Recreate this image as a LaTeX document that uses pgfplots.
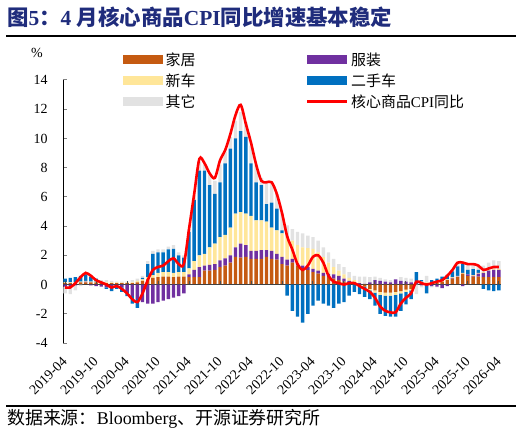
\documentclass[border=0pt]{standalone}
\usepackage{fontspec}
\setmainfont{Liberation Serif}
\newfontfamily\cjk{Noto Sans CJK SC}
\usepackage{pgfplots}
\usepackage{pgfplotstable}
\pgfplotsset{compat=1.18}

\definecolor{cHJ}{HTML}{C55A11}
\definecolor{cFZ}{HTML}{7030A0}
\definecolor{cXC}{HTML}{FFE699}
\definecolor{cESC}{HTML}{0070C0}
\definecolor{cQT}{HTML}{E2E2E2}
\definecolor{titleblue}{HTML}{1F2C7C}

% contributions to core goods CPI y/y (pp), month index 0 = 2019-04
\pgfplotstableread{
m hj fz xc esc qt cpi
0 0.10 -0.15 0.05 0.25 -0.45 -0.2
1 0.10 -0.10 0.05 0.30 -0.55 -0.2
2 0.10 -0.05 0.05 0.35 -0.35 0.1
3 0.15 0.00 0.05 0.40 -0.10 0.5
4 0.15 0.05 0.05 0.45 0.10 0.8
5 0.15 -0.05 0.05 0.35 0.10 0.6
6 0.15 -0.10 0.05 0.20 0.00 0.3
7 0.12 -0.15 0.05 0.00 0.13 0.15
8 0.10 -0.20 0.05 -0.10 0.15 0.0
9 0.10 -0.15 0.05 -0.30 0.10 -0.2
10 0.10 -0.10 0.05 -0.20 0.05 -0.1
11 0.10 -0.20 0.03 -0.30 0.07 -0.3
12 0.10 -0.50 0.05 -0.30 0.05 -0.6
13 0.10 -0.80 0.05 -0.50 0.15 -1.0
14 0.15 -1.00 0.10 -0.60 0.15 -1.2
15 0.25 -1.20 0.10 0.10 0.15 -0.6
16 0.35 -1.30 0.15 0.90 0.20 0.3
17 0.45 -1.30 0.20 1.45 0.20 1.0
18 0.50 -1.20 0.30 1.40 0.20 1.2
19 0.55 -1.10 0.30 1.35 0.20 1.3
20 0.55 -1.00 0.30 1.55 0.20 1.6
21 0.50 -0.90 0.30 1.65 0.25 1.8
22 0.55 -0.80 0.30 1.15 0.20 1.4
23 0.55 -0.60 0.30 1.00 0.15 1.4
24 0.50 0.20 0.40 2.50 0.20 3.8
25 0.50 0.50 0.60 4.20 0.30 6.2
26 0.50 0.70 0.80 5.80 0.60 8.6
27 0.95 0.35 0.80 5.70 0.40 8.3
28 0.95 0.40 1.20 4.25 0.70 7.6
29 1.00 0.40 1.40 3.40 0.90 7.3
30 1.20 0.45 1.60 3.75 1.20 8.5
31 1.30 0.50 1.60 4.90 0.80 9.2
32 1.50 0.50 1.90 5.40 0.80 10.3
33 1.90 0.65 2.30 5.15 1.20 11.6
34 1.85 0.95 2.15 5.55 1.30 12.3
35 1.90 0.80 2.15 5.25 1.00 11.0
36 1.75 0.55 2.40 3.60 1.20 9.7
37 1.75 0.55 2.10 2.60 1.20 8.2
38 1.75 0.60 2.05 2.40 0.50 7.1
39 1.90 0.45 1.95 1.20 1.40 7.0
40 1.75 0.55 1.60 1.70 1.30 7.0
41 1.70 0.40 1.60 1.50 1.00 6.2
42 1.40 0.50 1.60 0.20 1.20 4.9
43 1.30 0.40 1.55 -0.75 0.80 3.3
44 1.50 0.25 1.25 -1.80 0.80 2.4
45 1.30 0.15 1.25 -2.20 0.90 1.4
46 1.07 0.23 1.25 -2.60 0.95 1.0
47 1.00 0.20 1.30 -2.00 0.85 1.3
48 0.85 0.22 1.38 -1.45 0.80 1.9
49 0.75 0.20 1.25 -1.10 0.80 2.0
50 0.60 0.20 1.07 -1.30 0.68 1.5
51 0.50 0.23 0.77 -1.45 0.70 0.6
52 0.40 0.30 0.50 -1.60 0.55 0.2
53 0.30 0.30 0.35 -1.30 0.45 0.1
54 0.20 0.20 0.30 -1.20 0.50 0.0
55 0.10 0.15 0.20 -0.75 0.40 0.1
56 0.05 0.10 0.15 -0.50 0.30 0.1
57 -0.05 0.10 0.05 -0.60 0.40 -0.1
58 -0.15 0.05 0.00 -0.70 0.50 -0.3
59 -0.30 0.15 -0.10 -0.60 0.35 -0.5
60 -0.40 0.30 -0.15 -0.90 0.25 -0.9
61 -0.50 0.25 -0.20 -1.30 0.20 -1.5
62 -0.55 0.20 -0.20 -1.40 0.15 -1.8
63 -0.55 0.15 -0.20 -1.45 0.15 -1.9
64 -0.50 0.35 -0.20 -1.50 0.00 -1.9
65 -0.45 0.25 -0.15 -1.20 0.25 -1.3
66 -0.35 0.20 -0.15 -0.85 0.25 -0.9
67 -0.30 0.15 -0.10 -0.60 0.25 -0.6
68 0.05 0.05 0.05 0.70 -0.65 0.2
69 0.15 -0.05 0.05 0.10 -0.15 0.1
70 0.10 -0.10 0.05 -0.50 0.45 0.0
71 0.05 -0.10 0.05 0.20 -0.10 0.1
72 0.10 -0.15 0.05 0.25 -0.05 0.2
73 0.20 -0.25 0.05 0.30 0.00 0.3
74 0.30 -0.10 0.05 0.30 0.05 0.6
75 0.40 0.05 0.05 0.40 0.10 1.0
76 0.50 0.05 0.05 0.65 0.25 1.5
77 0.75 -0.10 0.05 0.60 0.20 1.5
78 0.60 0.10 0.00 0.30 0.40 1.4
79 0.55 0.05 0.05 0.40 0.35 1.4
80 0.55 0.20 0.05 0.20 0.30 1.3
81 0.50 0.30 0.05 -0.30 0.45 1.0
82 0.50 0.45 0.05 -0.40 0.50 1.1
83 0.50 0.50 0.05 -0.45 0.60 1.2
84 0.50 0.50 0.05 -0.40 0.55 1.2
}\core

\pgfplotsset{
  base/.style={
    width=438bp, height=263bp, scale only axis,
    xmin=-0.4, xmax=84.4, ymin=-4, ymax=14,
    at={(63bp,91bp)}, anchor=south west,
  },
  sbar/.style={fill=#1, draw=none},
  barleg/.style={legend image code/.code={\fill[##1] (0bp,-4.5bp) rectangle (40bp,4.5bp);}},
  lineleg/.style={legend image code/.code={\draw[##1] (0bp,0bp) -- (40bp,0bp);}},
}

\begin{document}
\begin{tikzpicture}
\path[use as bounding box] (0,0) rectangle (522bp,434bp);

\node[anchor=west, text=titleblue, font=\fontsize{21.5}{25}\selectfont\bfseries, inner sep=0pt]
  at (7bp,417bp) {{\cjk 图}5{\cjk ：}4 {\cjk 月核心商品}CPI{\cjk 同比增速基本稳定}};
\draw[line width=1.2bp] (6bp,398bp) -- (516bp,398bp);
\draw[line width=1.2bp] (6bp,28bp) -- (516bp,28bp);
\node[anchor=west, inner sep=0pt, font=\fontsize{18}{21}\selectfont]
  at (7bp,15bp) {{\cjk 数据来源：}Bloomberg{\cjk 、开源证券研究所}};
\node[font=\fontsize{14}{16}\selectfont, inner sep=0pt] at (37bp,381bp) {\%};

% positive parts of each contribution, stacked upward from zero
\begin{axis}[base, ybar stacked, bar width=0.66,
  axis x line=bottom, axis y line=left,
  axis line style={-}, x axis line style={draw=none},
  y axis line style={line width=1bp},
  ytick={-4,-2,...,14}, xtick={0,6,...,84},
  xticklabels={2019-04,2019-10,2020-04,2020-10,2021-04,2021-10,2022-04,2022-10,2023-04,2023-10,2024-04,2024-10,2025-04,2025-10,2026-04},
  xtick style={draw=none},
  ytick style={line width=1bp},
  tick align=inside, major tick length=4bp,
  tick label style={font=\fontsize{14}{16}\selectfont},
  /pgf/number format/assume math mode=true,
  yticklabel style={xshift=-12bp},
  xticklabel style={xshift=2bp, yshift=-14bp, rotate=45, anchor=east},
]
\addplot[sbar=cHJ]  table[x=m, y expr={max(\thisrow{hj},0)}]  {\core};
\addplot[sbar=cFZ]  table[x=m, y expr={max(\thisrow{fz},0)}]  {\core};
\addplot[sbar=cXC]  table[x=m, y expr={max(\thisrow{xc},0)}]  {\core};
\addplot[sbar=cESC] table[x=m, y expr={max(\thisrow{esc},0)}] {\core};
\addplot[sbar=cQT]  table[x=m, y expr={max(\thisrow{qt},0)}]  {\core};
\end{axis}

% negative parts, stacked downward from zero, plus the zero line
\begin{axis}[base, hide axis, ybar stacked, bar width=0.66]
\addplot[sbar=cHJ]  table[x=m, y expr={min(\thisrow{hj},0)}]  {\core};
\addplot[sbar=cFZ]  table[x=m, y expr={min(\thisrow{fz},0)}]  {\core};
\addplot[sbar=cXC]  table[x=m, y expr={min(\thisrow{xc},0)}]  {\core};
\addplot[sbar=cESC] table[x=m, y expr={min(\thisrow{esc},0)}] {\core};
\addplot[sbar=cQT]  table[x=m, y expr={min(\thisrow{qt},0)}]  {\core};
\draw[black!75, line width=1.6bp] (axis cs:-0.4,0) -- (axis cs:84.4,0);
\pgfplotsinvokeforeach{0,6,...,84}{\draw[black!70, line width=1bp] (axis cs:#1,0) -- ([yshift=4bp]axis cs:#1,0);}
\end{axis}

% headline series and legend
\begin{axis}[base, hide axis,
  legend columns=2, legend cell align=left,
  legend style={at={(0.137,1.115)}, anchor=north west, draw=none, fill=none,
    inner sep=0pt, font=\fontsize{15}{17}\selectfont,
    nodes={inner sep=2.5bp}, row sep=2bp,
    /tikz/every even column/.append style={column sep=108bp}},
]
\addlegendimage{barleg, fill=cHJ, draw=none}
\addlegendentry{\cjk 家居}
\addlegendimage{barleg, fill=cFZ, draw=none}
\addlegendentry{\cjk 服装}
\addlegendimage{barleg, fill=cXC, draw=none}
\addlegendentry{\cjk 新车}
\addlegendimage{barleg, fill=cESC, draw=none}
\addlegendentry{\cjk 二手车}
\addlegendimage{barleg, fill=cQT, draw=none}
\addlegendentry{\cjk 其它}
\addplot[red, line width=2.6bp, smooth, lineleg] table[x=m, y=cpi] {\core};
\addlegendentry{{\cjk 核心商品}CPI{\cjk 同比}}
\end{axis}
\end{tikzpicture}
\end{document}
